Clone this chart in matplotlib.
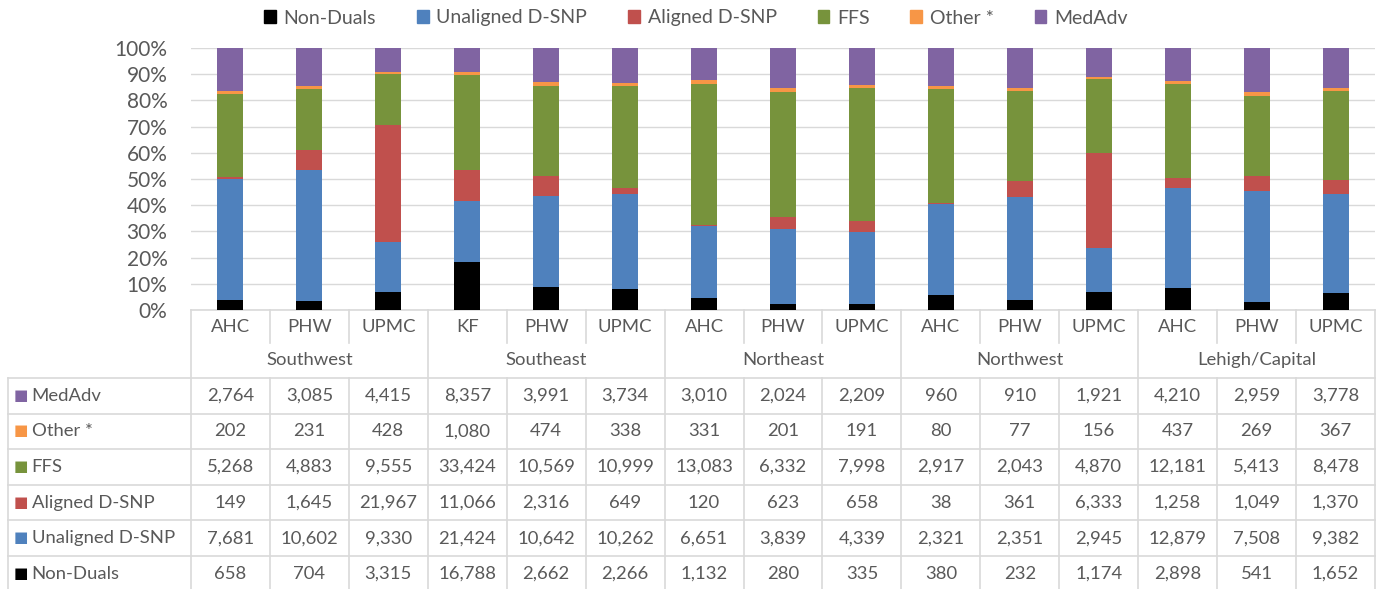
import numpy as np
import matplotlib
matplotlib.use("Agg")
import matplotlib.pyplot as plt
from matplotlib.patches import Patch
from matplotlib.transforms import blended_transform_factory

plt.rcParams['font.family'] = ['Lato', 'DejaVu Sans']

regions = ["Southwest", "Southeast", "Northeast", "Northwest", "Lehigh/Capital"]
plans = ["AHC", "PHW", "UPMC", "KF", "PHW", "UPMC", "AHC", "PHW", "UPMC",
         "AHC", "PHW", "UPMC", "AHC", "PHW", "UPMC"]

series = ["Non-Duals", "Unaligned D-SNP", "Aligned D-SNP", "FFS", "Other *", "MedAdv"]
colors = ["#000000", "#4F81BD", "#C0504D", "#77933C", "#F79646", "#8064A2"]

non_duals = [658, 704, 3315, 16788, 2662, 2266, 1132, 280, 335, 380, 232, 1174, 2898, 541, 1652]
unaligned = [7681, 10602, 9330, 21424, 10642, 10262, 6651, 3839, 4339, 2321, 2351, 2945, 12879, 7508, 9382]
aligned = [149, 1645, 21967, 11066, 2316, 649, 120, 623, 658, 38, 361, 6333, 1258, 1049, 1370]
ffs = [5268, 4883, 9555, 33424, 10569, 10999, 13083, 6332, 7998, 2917, 2043, 4870, 12181, 5413, 8478]
other = [202, 231, 428, 1080, 474, 338, 331, 201, 191, 80, 77, 156, 437, 269, 367]
medadv = [2764, 3085, 4415, 8357, 3991, 3734, 3010, 2024, 2209, 960, 910, 1921, 4210, 2959, 3778]

W, H = 1377, 589
TXT = "#595959"
GRID = "#D9D9D9"
FS = 13.3

fig = plt.figure(figsize=(W / 100, H / 100), dpi=100)
ax = fig.add_axes([191 / W, 1 - 310 / H, 1184 / W, 262 / H])

data = np.array([non_duals, unaligned, aligned, ffs, other, medadv], dtype=float)
share = data / data.sum(axis=0)
x = np.arange(len(plans)) + 0.5
bottom = np.zeros(len(plans))
for vals, name, col in zip(share, series, colors):
    ax.bar(x, vals, 0.33, bottom=bottom, color=col, label=name, zorder=3)
    bottom += vals

ax.set_xlim(0, len(plans))
ax.set_ylim(0, 1)
ax.set_yticks(np.arange(0, 1.01, 0.1))
ax.set_yticklabels([f"{int(round(v * 100))}%" for v in np.arange(0, 1.01, 0.1)])
ax.tick_params(axis='y', length=0, pad=17, labelsize=15, labelcolor=TXT)
ax.set_xticks([])
ax.grid(axis='y', color=GRID, lw=1, zorder=0)
for s in ax.spines.values():
    s.set_visible(False)

# data table under the chart (x in column units, y in pixels from top)
tr = blended_transform_factory(ax.transData, fig.transFigure)
def fy(py):
    return 1 - py / H

left = -183 / 78.93
row_top = [378 + 35.6 * i for i in range(7)]
line_kw = dict(color=GRID, lw=1.2, transform=tr, clip_on=False)

ax.plot([0, 15], [fy(310), fy(310)], **line_kw)
for yy in row_top:
    ax.plot([left, 15], [fy(yy), fy(yy)], **line_kw)
for i in range(16):
    if i % 3 == 0:
        ax.plot([i, i], [fy(310), fy(row_top[-1])], **line_kw)
    else:
        ax.plot([i, i], [fy(310), fy(343)], **line_kw)
        ax.plot([i, i], [fy(378), fy(row_top[-1])], **line_kw)
ax.plot([left, left], [fy(378), fy(row_top[-1])], **line_kw)

for i, p in enumerate(plans):
    ax.text(i + 0.5, fy(327), p, transform=tr, ha='center', va='center',
            fontsize=FS, color=TXT)
for j, r in enumerate(regions):
    ax.text(3 * j + 1.5, fy(360), r, transform=tr, ha='center', va='center',
            fontsize=FS, color=TXT)

for k in range(len(series)):
    idx = len(series) - 1 - k
    yc = fy((row_top[k] + row_top[k + 1]) / 2)
    ax.text(left + 0.16, yc, "\u25A0", transform=tr, ha='center', va='center',
            fontsize=11, color=colors[idx])
    ax.text(left + 0.3, yc, series[idx], transform=tr, ha='left', va='center',
            fontsize=FS, color=TXT)
    for i in range(len(plans)):
        ax.text(i + 0.5, yc, f"{int(data[idx, i]):,}", transform=tr,
                ha='center', va='center', fontsize=FS, color=TXT)

handles = [Patch(color=c, label=s) for s, c in zip(series, colors)]
fig.legend(handles=handles, loc='center', bbox_to_anchor=(696 / W, fy(18)), ncol=6,
           frameon=False, fontsize=14, labelcolor=TXT, handlelength=0.6,
           handleheight=0.6, handletextpad=0.4, columnspacing=2.1)

fig.savefig("out.png", dpi=100)
